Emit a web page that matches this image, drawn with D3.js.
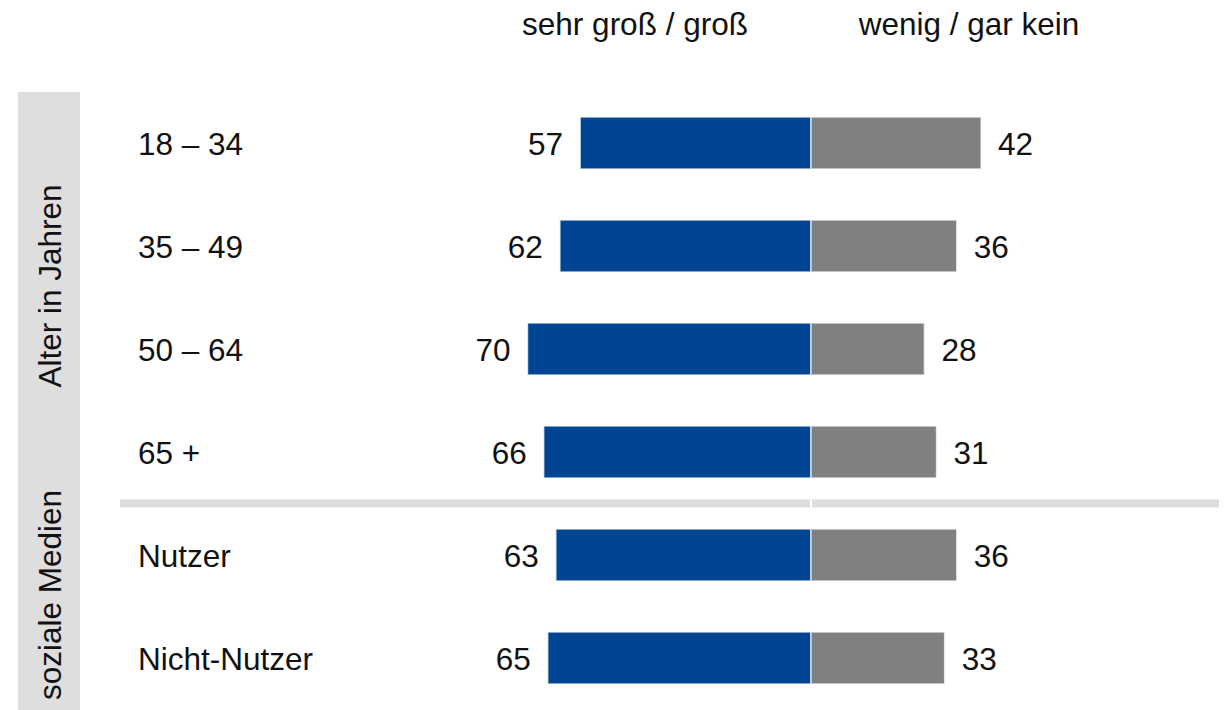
<!DOCTYPE html>
<html>
<head>
<meta charset="utf-8">
<script src="https://cdn.jsdelivr.net/npm/d3@7"></script>
<style>
  body { margin: 0; background: #fff; }
  svg { display: block; font-family: "Liberation Sans", Arial, sans-serif; }
</style>
</head>
<body>
<svg id="chart"></svg>
<script>
// row labels and values (percent)
var categories = ["18 – 34", "35 – 49", "50 – 64", "65 +", "Nutzer", "Nicht-Nutzer"];
var rowGroup = [0, 0, 0, 0, 1, 1];
var groupLabels = ["Alter in Jahren", "soziale Medien"];
var largeValues = [57, 62, 70, 66, 63, 65];
var smallValues = [42, 36, 28, 31, 36, 33];
var headers = ["sehr groß / groß", "wenig / gar kein"];

var width = 1230,
  height = 710,
  center = 811,
  fontSize = 31.5;

var svg = d3.select("#chart").attr("width", width).attr("height", height);

var y = d3
  .scaleBand()
  .domain(categories)
  .range([91.5, 709.5])
  .paddingInner(0.495)
  .paddingOuter(0.2475);

var x = d3.scaleLinear().domain([0, 100]).range([0, 405]);

// grey side panels, one per group
var panelBounds = [
  [92, 480],
  [480, 710],
];
svg
  .selectAll(".panel")
  .data(panelBounds)
  .enter()
  .append("rect")
  .attr("x", 18)
  .attr("y", (d) => d[0])
  .attr("width", 62)
  .attr("height", (d) => d[1] - d[0])
  .attr("fill", "#dedede");

svg
  .selectAll(".panel-label")
  .data(groupLabels)
  .enter()
  .append("text")
  .attr("transform", (d, i) => {
    var mid = (panelBounds[i][0] + panelBounds[i][1]) / 2;
    return `translate(61, ${mid}) rotate(-90)`;
  })
  .attr("text-anchor", "middle")
  .attr("font-size", fontSize)
  .attr("fill", "#111")
  .text((d) => d);

// separator between the two groups
var sepY = (y(categories[3]) + y.bandwidth() + y(categories[4])) / 2;
svg
  .append("rect")
  .attr("x", 120)
  .attr("y", sepY - 4)
  .attr("width", 1219 - 120)
  .attr("height", 8)
  .attr("fill", "#dddddd");
svg
  .append("rect")
  .attr("x", center - 1)
  .attr("y", sepY - 4)
  .attr("width", 2)
  .attr("height", 8)
  .attr("fill", "#fff");

// column headers
svg
  .selectAll(".header")
  .data(headers)
  .enter()
  .append("text")
  .attr("x", (d, i) => (i == 0 ? center - 176 : center + 158))
  .attr("y", 35)
  .attr("text-anchor", "middle")
  .attr("font-size", fontSize)
  .attr("fill", "#111")
  .text((d) => d);

// row labels
svg
  .selectAll(".row-label")
  .data(categories)
  .enter()
  .append("text")
  .attr("x", 138)
  .attr("y", (d) => y(d) + y.bandwidth() / 2)
  .attr("dy", "0.37em")
  .attr("font-size", fontSize)
  .attr("fill", "#111")
  .text((d) => d);

// left bars (sehr groß / groß)
svg
  .selectAll(".bar-large")
  .data(largeValues)
  .enter()
  .append("rect")
  .attr("x", (d) => center - x(d))
  .attr("y", (d, i) => y(categories[i]))
  .attr("width", (d) => x(d))
  .attr("height", y.bandwidth())
  .attr("fill", "#004494")
  .attr("stroke", "#fff")
  .attr("stroke-opacity", 0.7)
  .attr("stroke-width", 1.5);

// right bars (wenig / gar kein)
svg
  .selectAll(".bar-small")
  .data(smallValues)
  .enter()
  .append("rect")
  .attr("x", center)
  .attr("y", (d, i) => y(categories[i]))
  .attr("width", (d) => x(d))
  .attr("height", y.bandwidth())
  .attr("fill", "#808080")
  .attr("stroke", "#fff")
  .attr("stroke-opacity", 0.7)
  .attr("stroke-width", 1.5);

// value labels
svg
  .selectAll(".val-large")
  .data(largeValues)
  .enter()
  .append("text")
  .attr("x", (d) => center - x(d) - 17)
  .attr("y", (d, i) => y(categories[i]) + y.bandwidth() / 2)
  .attr("dy", "0.37em")
  .attr("text-anchor", "end")
  .attr("font-size", fontSize)
  .attr("fill", "#111")
  .text((d) => d);

svg
  .selectAll(".val-small")
  .data(smallValues)
  .enter()
  .append("text")
  .attr("x", (d) => center + x(d) + 17)
  .attr("y", (d, i) => y(categories[i]) + y.bandwidth() / 2)
  .attr("dy", "0.37em")
  .attr("font-size", fontSize)
  .attr("fill", "#111")
  .text((d) => d);
</script>
</body>
</html>
